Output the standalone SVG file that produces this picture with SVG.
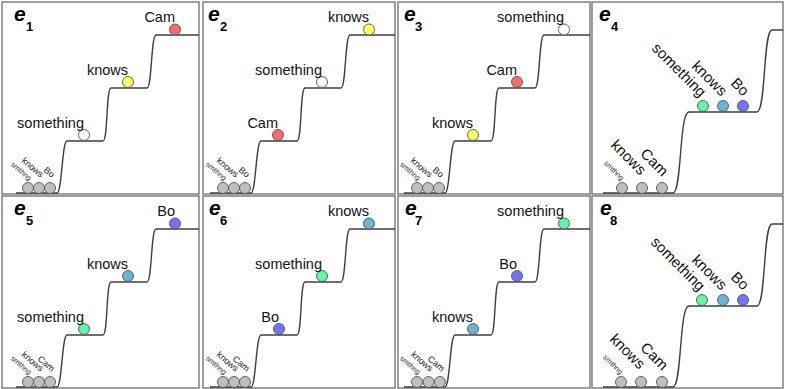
<svg xmlns="http://www.w3.org/2000/svg" width="785" height="389" viewBox="0 0 785 389">
<style>
.frame{fill:#fff;stroke:#808080;stroke-width:1.5}
.stair{fill:none;stroke:#3f3f3f;stroke-width:1.4}
.ball{stroke:#555;stroke-width:0.9}
.g{fill:#bfbfbf}.r{fill:#f46c6c}.y{fill:#ffff66}.w{fill:#fff}.gr{fill:#66f2a8}.b{fill:#6cb3d9}.p{fill:#7373f7}
text{font-family:"Liberation Sans",Arial,sans-serif;fill:#111}
.lbl{font-size:14.5px;text-anchor:end}
.big{font-size:15px;text-anchor:end}
.sm{font-size:9px;text-anchor:end;fill:#222}
.xs{font-size:7.5px;text-anchor:end;fill:#333}
.e{font-weight:bold;font-style:italic;font-size:21px;fill:#000}
.sub{font-weight:bold;font-size:13px;fill:#000}
</style>
<defs>
<path id="stairA" d="M16,193 H57 C62,193 62,141 67,141 H103 C108,141 106,88 111,88 H147 C152,88 151,35 156,35 H199"/>
<path id="stairB" d="M210,193 H251 C256,193 256,141 261,141 H297 C302,141 300,88 305,88 H341 C346,88 345,35 350,35 H395"/>
<path id="stairC" d="M404,193 H445 C450,193 450,141 455,141 H491 C496,141 494,88 499,88 H535 C540,88 539,35 544,35 H590"/>
<path id="stairD" d="M603,193 H673 C682,193 679,112 689,112 H757 C766,112 763,30 772,30 H783"/>
</defs>

<g id="panel-e1">
<rect class="frame" x="2" y="2" width="197" height="192"/>
<text class="e" x="14" y="21">e</text><text class="sub" x="26" y="31">1</text>
<use href="#stairA" class="stair"/>
<g id="e1-smthng"><circle class="ball g" cx="28" cy="188" r="5.5"/><text class="xs" transform="translate(29,181) rotate(40)">smthng</text></g>
<g id="e1-knows0"><circle class="ball g" cx="39" cy="188" r="5.5"/><text class="sm" transform="translate(40.5,178) rotate(40)">knows</text></g>
<g id="e1-bo0"><circle class="ball g" cx="50" cy="188" r="5.5"/><text class="sm" transform="translate(51.5,178) rotate(40)">Bo</text></g>
<g id="e1-something"><circle class="ball w" cx="84" cy="135" r="5.5"/><text class="lbl" x="84" y="128">something</text></g>
<g id="e1-knows"><circle class="ball y" cx="128" cy="82" r="5.5"/><text class="lbl" x="128" y="75">knows</text></g>
<g id="e1-cam"><circle class="ball r" cx="175" cy="29.5" r="5.5"/><text class="lbl" x="175" y="22">Cam</text></g>
</g>

<g id="panel-e2">
<rect class="frame" x="203" y="2" width="192" height="192"/>
<text class="e" x="208" y="21">e</text><text class="sub" x="220" y="31">2</text>
<use href="#stairB" class="stair"/>
<g id="e2-smthng"><circle class="ball g" cx="223" cy="188" r="5.5"/><text class="xs" transform="translate(224,181) rotate(40)">smthng</text></g>
<g id="e2-knows0"><circle class="ball g" cx="234" cy="188" r="5.5"/><text class="sm" transform="translate(235.5,178) rotate(40)">knows</text></g>
<g id="e2-bo0"><circle class="ball g" cx="245" cy="188" r="5.5"/><text class="sm" transform="translate(246.5,178) rotate(40)">Bo</text></g>
<g id="e2-cam"><circle class="ball r" cx="278" cy="135" r="5.5"/><text class="lbl" x="278" y="128">Cam</text></g>
<g id="e2-something"><circle class="ball w" cx="322" cy="82" r="5.5"/><text class="lbl" x="322" y="75">something</text></g>
<g id="e2-knows"><circle class="ball y" cx="369" cy="29.5" r="5.5"/><text class="lbl" x="369" y="22">knows</text></g>
</g>

<g id="panel-e3">
<rect class="frame" x="398" y="2" width="192" height="192"/>
<text class="e" x="404" y="21">e</text><text class="sub" x="415" y="31">3</text>
<use href="#stairC" class="stair"/>
<g id="e3-smthng"><circle class="ball g" cx="417" cy="188" r="5.5"/><text class="xs" transform="translate(418,181) rotate(40)">smthng</text></g>
<g id="e3-knows0"><circle class="ball g" cx="428" cy="188" r="5.5"/><text class="sm" transform="translate(429.5,178) rotate(40)">knows</text></g>
<g id="e3-bo0"><circle class="ball g" cx="439" cy="188" r="5.5"/><text class="sm" transform="translate(440.5,178) rotate(40)">Bo</text></g>
<g id="e3-knows"><circle class="ball y" cx="473" cy="135" r="5.5"/><text class="lbl" x="473" y="128">knows</text></g>
<g id="e3-cam"><circle class="ball r" cx="517" cy="82" r="5.5"/><text class="lbl" x="517" y="75">Cam</text></g>
<g id="e3-something"><circle class="ball w" cx="564" cy="29.5" r="5.5"/><text class="lbl" x="564" y="22">something</text></g>
</g>

<g id="panel-e4">
<rect class="frame" x="592" y="2" width="191" height="192"/>
<text class="e" x="599" y="21">e</text><text class="sub" x="611" y="31">4</text>
<use href="#stairD" class="stair"/>
<g id="e4-smthng"><circle class="ball g" cx="622" cy="188" r="5.5"/><text class="xs" font-size="7" transform="translate(621,181) rotate(45)">smthng</text></g>
<g id="e4-knows0"><circle class="ball g" cx="642" cy="188" r="5.5"/><text class="big" transform="translate(640,176) rotate(45)">knows</text></g>
<g id="e4-cam0"><circle class="ball g" cx="662" cy="188" r="5.5"/><text class="big" transform="translate(662,177) rotate(45)">Cam</text></g>
<g id="e4-something"><circle class="ball gr" cx="703" cy="106" r="5.5"/><text class="big" transform="translate(700,98) rotate(45)">something</text></g>
<g id="e4-knows"><circle class="ball b" cx="723" cy="106" r="5.5"/><text class="big" transform="translate(721,97) rotate(45)">knows</text></g>
<g id="e4-bo"><circle class="ball p" cx="743" cy="106" r="5.5"/><text class="big" transform="translate(743,97) rotate(45)">Bo</text></g>
</g>

<g id="panel-e5">
<rect class="frame" x="2" y="196" width="197" height="192"/>
<text class="e" x="14" y="215">e</text><text class="sub" x="26" y="225">5</text>
<use href="#stairA" class="stair" transform="translate(0,194)"/>
<g id="e5-smthng"><circle class="ball g" cx="28" cy="382" r="5.5"/><text class="xs" transform="translate(29,375) rotate(40)">smthng</text></g>
<g id="e5-knows0"><circle class="ball g" cx="39" cy="382" r="5.5"/><text class="sm" transform="translate(40.5,372) rotate(40)">knows</text></g>
<g id="e5-cam0"><circle class="ball g" cx="50" cy="382" r="5.5"/><text class="sm" transform="translate(51.5,372) rotate(40)">Cam</text></g>
<g id="e5-something"><circle class="ball gr" cx="84" cy="329" r="5.5"/><text class="lbl" x="84" y="322">something</text></g>
<g id="e5-knows"><circle class="ball b" cx="128" cy="276" r="5.5"/><text class="lbl" x="128" y="269">knows</text></g>
<g id="e5-bo"><circle class="ball p" cx="175" cy="223.5" r="5.5"/><text class="lbl" x="175" y="216">Bo</text></g>
</g>

<g id="panel-e6">
<rect class="frame" x="203" y="196" width="192" height="192"/>
<text class="e" x="209" y="215">e</text><text class="sub" x="220" y="225">6</text>
<use href="#stairB" class="stair" transform="translate(0,194)"/>
<g id="e6-smthng"><circle class="ball g" cx="223" cy="382" r="5.5"/><text class="xs" transform="translate(224,375) rotate(40)">smthng</text></g>
<g id="e6-knows0"><circle class="ball g" cx="234" cy="382" r="5.5"/><text class="sm" transform="translate(235.5,372) rotate(40)">knows</text></g>
<g id="e6-cam0"><circle class="ball g" cx="245" cy="382" r="5.5"/><text class="sm" transform="translate(246.5,372) rotate(40)">Cam</text></g>
<g id="e6-bo"><circle class="ball p" cx="279" cy="329" r="5.5"/><text class="lbl" x="279" y="322">Bo</text></g>
<g id="e6-something"><circle class="ball gr" cx="322" cy="276" r="5.5"/><text class="lbl" x="322" y="269">something</text></g>
<g id="e6-knows"><circle class="ball b" cx="369" cy="223.5" r="5.5"/><text class="lbl" x="369" y="216">knows</text></g>
</g>

<g id="panel-e7">
<rect class="frame" x="398" y="196" width="192" height="192"/>
<text class="e" x="405" y="215">e</text><text class="sub" x="415" y="225">7</text>
<use href="#stairC" class="stair" transform="translate(0,194)"/>
<g id="e7-smthng"><circle class="ball g" cx="417" cy="382" r="5.5"/><text class="xs" transform="translate(418,375) rotate(40)">smthng</text></g>
<g id="e7-knows0"><circle class="ball g" cx="428.5" cy="382" r="5.5"/><text class="sm" transform="translate(430,372) rotate(40)">knows</text></g>
<g id="e7-cam0"><circle class="ball g" cx="440" cy="382" r="5.5"/><text class="sm" transform="translate(441.5,372) rotate(40)">Cam</text></g>
<g id="e7-knows"><circle class="ball b" cx="473" cy="329" r="5.5"/><text class="lbl" x="473" y="322">knows</text></g>
<g id="e7-bo"><circle class="ball p" cx="517" cy="276" r="5.5"/><text class="lbl" x="517" y="269">Bo</text></g>
<g id="e7-something"><circle class="ball gr" cx="564" cy="223.5" r="5.5"/><text class="lbl" x="564" y="216">something</text></g>
</g>

<g id="panel-e8">
<rect class="frame" x="592" y="196" width="191" height="192"/>
<text class="e" x="600" y="215">e</text><text class="sub" x="610" y="225">8</text>
<use href="#stairD" class="stair" transform="translate(0,194)"/>
<g id="e8-smthng"><circle class="ball g" cx="621" cy="382" r="5.5"/><text class="xs" font-size="7" transform="translate(620,375) rotate(45)">smthng</text></g>
<g id="e8-knows0"><circle class="ball g" cx="641" cy="382" r="5.5"/><text class="big" transform="translate(639,370) rotate(45)">knows</text></g>
<g id="e8-cam0"><circle class="ball g" cx="662" cy="382" r="5.5"/><text class="big" transform="translate(662,371) rotate(45)">Cam</text></g>
<g id="e8-something"><circle class="ball gr" cx="702" cy="300" r="5.5"/><text class="big" transform="translate(699,292) rotate(45)">something</text></g>
<g id="e8-knows"><circle class="ball b" cx="723" cy="300" r="5.5"/><text class="big" transform="translate(721,291) rotate(45)">knows</text></g>
<g id="e8-bo"><circle class="ball p" cx="743" cy="300" r="5.5"/><text class="big" transform="translate(743,291) rotate(45)">Bo</text></g>
</g>
</svg>
